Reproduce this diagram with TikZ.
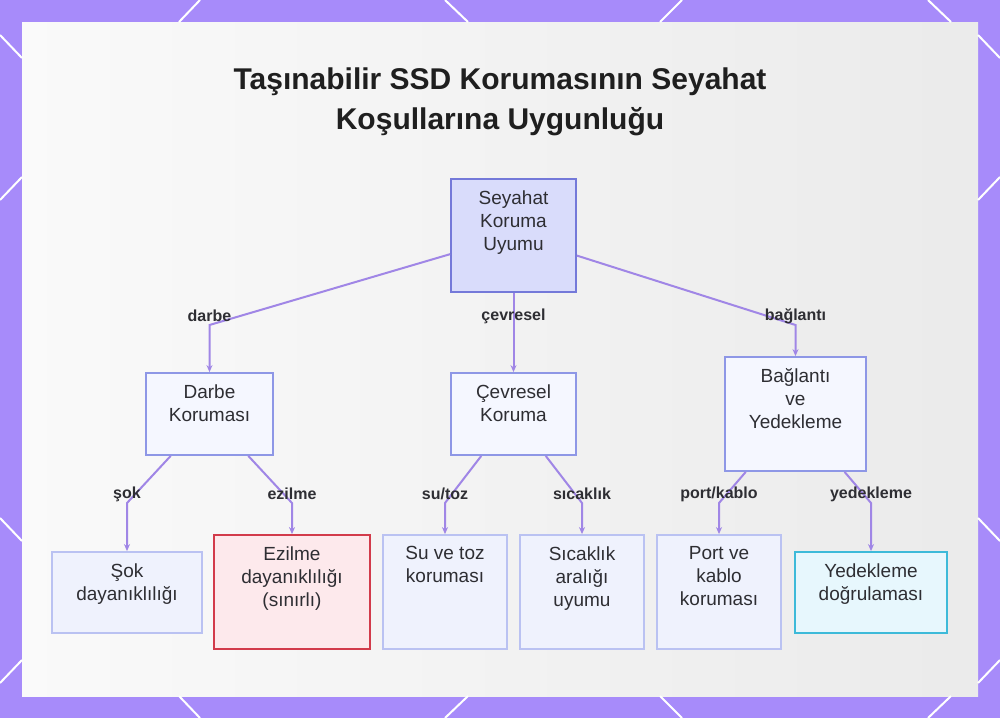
\documentclass[tikz,border=0pt]{standalone}
\usepackage{fontspec}
\setmainfont{Liberation Sans}
\usepackage{tikz}
\usetikzlibrary{positioning}
\usetikzlibrary{arrows.meta}
\definecolor{frame}{HTML}{A78BFA}
\definecolor{linec}{HTML}{A086E6}
\definecolor{ink}{HTML}{2E2E33}
\definecolor{topfill}{HTML}{D9DCFB}
\definecolor{topdraw}{HTML}{7479D9}
\definecolor{midfill}{HTML}{F5F7FF}
\definecolor{middraw}{HTML}{8E97E6}
\definecolor{leaffill}{HTML}{EFF2FD}
\definecolor{leafdraw}{HTML}{BAC2F2}
\definecolor{redfill}{HTML}{FDE9EC}
\definecolor{reddraw}{HTML}{D23B4B}
\definecolor{cyanfill}{HTML}{E7F7FD}
\definecolor{cyandraw}{HTML}{3DBAD9}

\begin{document}
\begin{tikzpicture}[x=0.5pt, y=-0.5pt,
    main/.style = {rectangle, draw=middraw, fill=midfill, line width=0.9pt},
    top/.style = {main, draw=topdraw, fill=topfill},
    leaf/.style = {main, draw=leafdraw, fill=leaffill},
    warn/.style = {main, draw=reddraw, fill=redfill},
    check/.style = {main, draw=cyandraw, fill=cyanfill},
    txt/.style = {anchor=north, yshift=-5.9pt, inner sep=0pt, align=center, text=ink, font=\fontsize{9.5}{11.5}\selectfont},
    lbl/.style = {yshift=4.5pt, text=ink, font=\bfseries\fontsize{8}{9}\selectfont},
    conn/.style = {draw=linec, line width=1pt, -{Stealth[length=3.5pt, width=3pt]}}]
        \useasboundingbox (0,0) rectangle (1000,718);
        % frame and panel
        \fill[frame] (0,0) rectangle (1000,718);
        \shade[left color=white!98!black, right color=black!8] (22,22) rectangle (978,696);
        \draw[white, line width=1pt] (200,0) -- (179,22) (445,0) -- (468,22) (682,0) -- (660,22) (928,0) -- (951,22);
        \draw[white, line width=1pt] (179,696) -- (200,718) (468,696) -- (445,718) (660,696) -- (682,718) (951,696) -- (928,718);
        \draw[white, line width=1pt] (0,35) -- (22,58) (22,177) -- (0,200) (0,518) -- (22,541) (22,660) -- (0,683);
        \draw[white, line width=1pt] (978,35) -- (1000,58) (978,200) -- (1000,177) (978,518) -- (1000,541) (978,683) -- (1000,660);
        \node[align=center, text=black!88, font=\bfseries\fontsize{15}{20}\selectfont] (t) at (500,102) {Taşınabilir SSD Korumasının Seyahat\\Koşullarına Uygunluğu};
        % boxes
        \node[top, minimum width=62.5pt, minimum height=56.5pt, label={[txt]north:Seyahat\\Koruma\\Uyumu}] (1) at (513.5,235.5) {};
        \node[main, minimum width=63.5pt, minimum height=41pt, label={[txt]north:Darbe\\Koruması}] (2) at (209.5,414) {};
        \node[main, minimum width=62.5pt, minimum height=41pt, label={[txt]north:Çevresel\\Koruma}] (3) at (513.5,414) {};
        \node[main, minimum width=70.5pt, minimum height=57pt, label={[txt]north:Bağlantı\\ve\\Yedekleme}] (4) at (795.5,414) {};
        \node[leaf, minimum width=75pt, minimum height=40.5pt, label={[txt]north:Şok\\dayanıklılığı}] (5) at (127,592.5) {};
        \node[warn, minimum width=78pt, minimum height=57pt, label={[txt]north:Ezilme\\dayanıklılığı\\(sınırlı)}] (6) at (292,592) {};
        \node[leaf, minimum width=62pt, minimum height=57pt, label={[txt]north:Su ve toz\\koruması}] (7) at (445,592) {};
        \node[leaf, minimum width=62pt, minimum height=57pt, label={[txt]north:Sıcaklık\\aralığı\\uyumu}] (8) at (582,592) {};
        \node[leaf, minimum width=62pt, minimum height=57pt, label={[txt]north:Port ve\\kablo\\koruması}] (9) at (719,592) {};
        \node[check, minimum width=76pt, minimum height=40.5pt, label={[txt]north:Yedekleme\\doğrulaması}] (10) at (871,592.5) {};
        % bends
        \coordinate (b2) at (209.5,325);
        \coordinate (b3) at (513.5,325);
        \coordinate (b4) at (795.5,325);
        \coordinate (b5) at (127,503);
        \coordinate (b6) at (292,503);
        \coordinate (b7) at (445,503);
        \coordinate (b8) at (582,503);
        \coordinate (b9) at (719,503);
        \coordinate (b10) at (871,503);
        % connectors
        \draw[conn] (1) -- (b2) node[lbl] {darbe} -- (2);
        \draw[conn] (1) -- (b3) node[lbl] {çevresel} -- (3);
        \draw[conn] (1) -- (b4) node[lbl] {bağlantı} -- (4);
        \draw[conn] (2) -- (b5) node[lbl] {şok} -- (5);
        \draw[conn] (2) -- (b6) node[lbl] {ezilme} -- (6);
        \draw[conn] (3) -- (b7) node[lbl] {su/toz} -- (7);
        \draw[conn] (3) -- (b8) node[lbl] {sıcaklık} -- (8);
        \draw[conn] (4) -- (b9) node[lbl] {port/kablo} -- (9);
        \draw[conn] (4) -- (b10) node[lbl] {yedekleme} -- (10);
    \end{tikzpicture}
\end{document}
